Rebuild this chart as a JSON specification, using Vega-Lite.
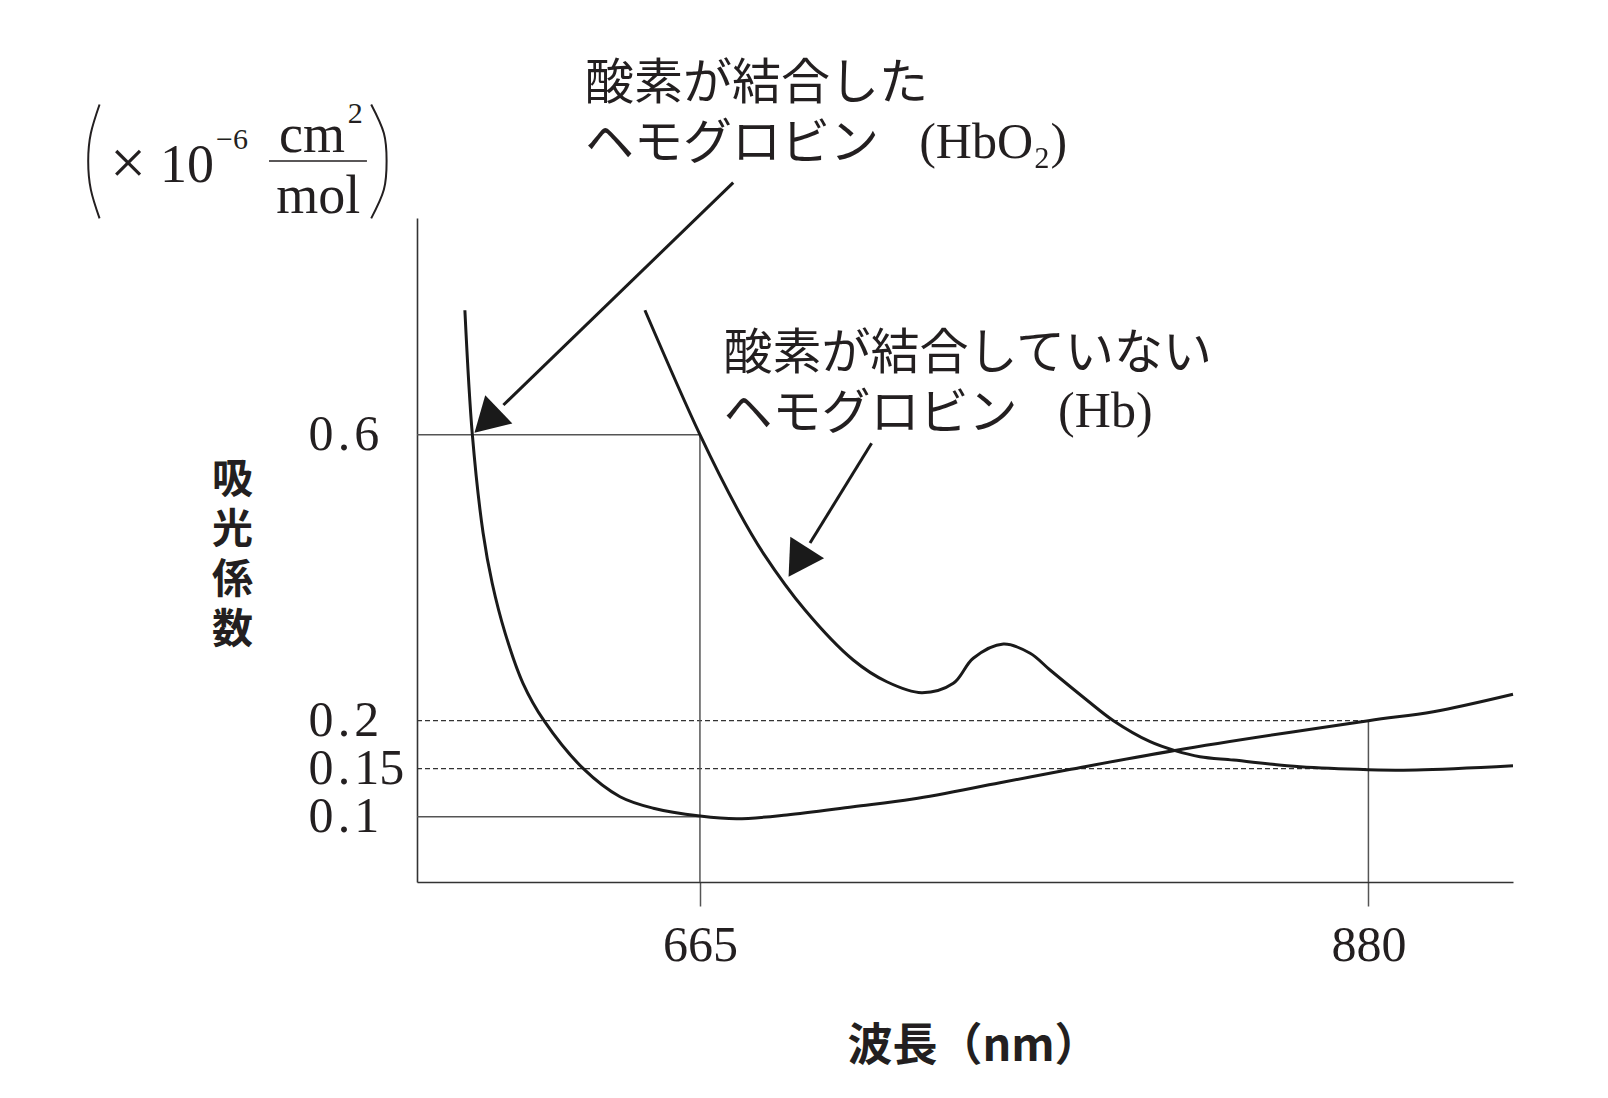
{
  "$schema": "https://vega.github.io/schema/vega-lite/v6.json",
  "width": 1096,
  "height": 664,
  "autosize": {"type": "none"},
  "padding": {"left": 417, "top": 218, "right": 95, "bottom": 216},
  "background": "white",
  "config": {"view": {"stroke": null}},
  "datasets": {
    "curves": [
      {"series": "HbO2", "x": 589.4, "y": 0.774},
      {"series": "HbO2", "x": 591.8, "y": 0.6},
      {"series": "HbO2", "x": 595.26, "y": 0.4625},
      {"series": "HbO2", "x": 598.19, "y": 0.3922},
      {"series": "HbO2", "x": 602.37, "y": 0.3222},
      {"series": "HbO2", "x": 608.09, "y": 0.2523},
      {"series": "HbO2", "x": 614.85, "y": 0.2},
      {"series": "HbO2", "x": 627.5, "y": 0.15},
      {"series": "HbO2", "x": 639.3, "y": 0.1208},
      {"series": "HbO2", "x": 650.0, "y": 0.1088},
      {"series": "HbO2", "x": 665, "y": 0.1007},
      {"series": "HbO2", "x": 676.8, "y": 0.0979},
      {"series": "HbO2", "x": 692.9, "y": 0.1018},
      {"series": "HbO2", "x": 714.3, "y": 0.1104},
      {"series": "HbO2", "x": 733.5, "y": 0.1184},
      {"series": "HbO2", "x": 761.5, "y": 0.1354},
      {"series": "HbO2", "x": 783, "y": 0.1486},
      {"series": "HbO2", "x": 817.3, "y": 0.1688},
      {"series": "HbO2", "x": 880, "y": 0.2},
      {"series": "HbO2", "x": 900.9, "y": 0.2126},
      {"series": "HbO2", "x": 926.5, "y": 0.237},
      {"series": "Hb", "x": 647.3, "y": 0.774},
      {"series": "Hb", "x": 665, "y": 0.6},
      {"series": "Hb", "x": 677.2, "y": 0.4947},
      {"series": "Hb", "x": 685.4, "y": 0.4341},
      {"series": "Hb", "x": 698.8, "y": 0.3548},
      {"series": "Hb", "x": 714.3, "y": 0.2849},
      {"series": "Hb", "x": 725.1, "y": 0.2545},
      {"series": "Hb", "x": 736.3, "y": 0.2392},
      {"series": "Hb", "x": 746.5, "y": 0.2523},
      {"series": "Hb", "x": 752.9, "y": 0.2873},
      {"series": "Hb", "x": 762.6, "y": 0.3073},
      {"series": "Hb", "x": 771.2, "y": 0.2943},
      {"series": "Hb", "x": 777.6, "y": 0.2709},
      {"series": "Hb", "x": 789.4, "y": 0.229},
      {"series": "Hb", "x": 798, "y": 0.2},
      {"series": "Hb", "x": 809.8, "y": 0.1781},
      {"series": "Hb", "x": 817.8, "y": 0.1688},
      {"series": "Hb", "x": 825.8, "y": 0.1625},
      {"series": "Hb", "x": 836.6, "y": 0.159},
      {"series": "Hb", "x": 858, "y": 0.152},
      {"series": "Hb", "x": 880, "y": 0.149},
      {"series": "Hb", "x": 895.5, "y": 0.1486},
      {"series": "Hb", "x": 926.5, "y": 0.153}
    ],
    "solidH": [
      {"y": 0.6, "x": 574, "x2": 665},
      {"y": 0.1, "x": 574, "x2": 665}
    ],
    "dashedH": [
      {"y": 0.2, "x": 574, "x2": 880},
      {"y": 0.15, "x": 574, "x2": 880}
    ],
    "solidV": [
      {"x": 665, "y": 0.6, "y2": 0.032},
      {"x": 880, "y": 0.2, "y2": 0.032}
    ],
    "arrows": [
      {"x": 675.7, "y": 0.9524, "x2": 601.8, "y2": 0.6415},
      {"x": 720.2, "y": 0.588, "x2": 700.4, "y2": 0.4485}
    ],
    "headA": [{"x": 597.7, "y": 0.6245}],
    "headB": [{"x": 697.5, "y": 0.4285}],
    "labels": [
      {"t": "酸素が結合した\nヘモグロビン", "x": 628.0, "y": 1.0905},
      {"t": "酸素が結合していない\nヘモグロビン", "x": 672.6, "y": 0.7129}
    ],
    "formulas": [
      {"t": "(HbO₂)", "x": 735.5, "y": 0.987},
      {"t": "(Hb)", "x": 780.2, "y": 0.6112}
    ],
    "unitTimes": [{"t": "×", "x": 481.1, "y": 0.9512}],
    "unitBig": [
      {"t": "10", "x": 500.0, "y": 0.9527},
      {"t": "cm", "x": 540.2, "y": 0.9954},
      {"t": "mol", "x": 542.2, "y": 0.91}
    ],
    "unitSmall": [
      {"t": "−6", "x": 514.5, "y": 0.9996},
      {"t": "2", "x": 554.1, "y": 1.036}
    ],
    "bar": [{"x": 526.4, "x2": 557.9, "y": 0.9828}],
    "parens": [
      {"p": "L", "i": 0, "x": 471.9, "y": 1.0617},
      {"p": "L", "i": 1, "x": 469.1, "y": 1.0215},
      {"p": "L", "i": 2, "x": 468.25, "y": 0.9828},
      {"p": "L", "i": 3, "x": 469.1, "y": 0.9427},
      {"p": "L", "i": 4, "x": 471.9, "y": 0.9025},
      {"p": "R", "i": 0, "x": 559.27, "y": 1.0617},
      {"p": "R", "i": 1, "x": 563.35, "y": 1.0215},
      {"p": "R", "i": 2, "x": 564.22, "y": 0.9828},
      {"p": "R", "i": 3, "x": 563.35, "y": 0.9427},
      {"p": "R", "i": 4, "x": 559.27, "y": 0.9025}
    ]
  },
  "encoding": {
    "x": {"field": "x", "type": "quantitative",
      "scale": {"domain": [574, 926.5], "range": [0, 1096], "zero": false, "nice": false},
      "axis": {
        "values": [665, 880], "format": "d", "title": "波長（nm）",
        "domain": true, "domainColor": "#333333", "domainWidth": 1.6,
        "ticks": true, "tickSize": 24, "tickColor": "#555555", "tickWidth": 1.5,
        "labelFont": "Liberation Serif", "labelFontSize": 50, "labelColor": "#231f20",
        "labelPadding": 14, "labelOverlap": false, "labelFlush": false, "grid": false,
        "titleFont": "Noto Sans CJK JP", "titleFontSize": 45, "titleFontWeight": "bold",
        "titleColor": "#231f20", "titleX": 556, "titleY": 164, "titleAlign": "center",
        "titleBaseline": "middle", "titleAngle": 0
      }},
    "y": {"field": "y", "type": "quantitative",
      "scale": {"domain": [0.032, 0.1, 0.2, 0.6, 0.903], "range": [664, 598.7, 502.7, 216.7, 0], "zero": false, "nice": false},
      "axis": {
        "values": [0.1, 0.15, 0.2, 0.6],
        "labelExpr": "replace(format(datum.value, '.2~f'), '.', '\u200a.\u200a')",
        "ticks": false, "tickSize": 0,
        "domain": true, "domainColor": "#333333", "domainWidth": 1.6,
        "labelFont": "Liberation Serif", "labelFontSize": 50, "labelColor": "#231f20",
        "labelAlign": "left", "labelBaseline": "middle", "labelPadding": 109,
        "labelOverlap": false, "labelFlush": false, "grid": false,
        "title": ["吸", "光", "係", "数"], "titleAngle": 0,
        "titleX": -185, "titleY": 262, "titleAlign": "center", "titleBaseline": "middle",
        "titleFont": "Noto Sans CJK JP", "titleFontSize": 41, "titleFontWeight": "bold",
        "titleColor": "#231f20", "titleLineHeight": 50
      }}
  },
  "layer": [
    {
      "data": {"name": "solidH"},
      "mark": {"type": "rule", "color": "#555555", "strokeWidth": 1.5},
      "encoding": {"x2": {"field": "x2"}}
    },
    {
      "data": {"name": "dashedH"},
      "mark": {"type": "rule", "color": "#333333", "strokeWidth": 1.3, "strokeDash": [5, 3]},
      "encoding": {"x2": {"field": "x2"}}
    },
    {
      "data": {"name": "solidV"},
      "mark": {"type": "rule", "color": "#555555", "strokeWidth": 1.5},
      "encoding": {"y2": {"field": "y2"}}
    },
    {
      "data": {"name": "curves"},
      "mark": {"type": "line", "interpolate": "catmull-rom", "color": "#1a1a1a", "strokeWidth": 3},
      "encoding": {"detail": {"field": "series"}}
    },
    {
      "data": {"name": "arrows"},
      "mark": {"type": "rule", "color": "#1a1a1a", "strokeWidth": 3},
      "encoding": {"x2": {"field": "x2"}, "y2": {"field": "y2"}}
    },
    {
      "data": {"name": "headA"},
      "mark": {"type": "point", "shape": "triangle", "size": 1521, "angle": 226, "filled": true, "opacity": 1, "color": "#1a1a1a", "strokeWidth": 0},
      "encoding": {}
    },
    {
      "data": {"name": "headB"},
      "mark": {"type": "point", "shape": "triangle", "size": 1600, "angle": 212.5, "filled": true, "opacity": 1, "color": "#1a1a1a", "strokeWidth": 0},
      "encoding": {}
    },
    {
      "data": {"name": "labels"},
      "mark": {"type": "text", "align": "left", "baseline": "middle", "lineBreak": "\n", "lineHeight": 60, "font": "Noto Sans CJK JP", "fontSize": 49, "color": "#231f20"},
      "encoding": {"text": {"field": "t"}}
    },
    {
      "data": {"name": "formulas"},
      "mark": {"type": "text", "align": "left", "baseline": "alphabetic", "font": "Liberation Serif", "fontSize": 50, "color": "#231f20"},
      "encoding": {"text": {"field": "t"}}
    },
    {
      "data": {"name": "unitTimes"},
      "mark": {"type": "text", "align": "center", "baseline": "alphabetic", "font": "Liberation Serif", "fontSize": 64, "color": "#231f20"},
      "encoding": {"text": {"field": "t"}}
    },
    {
      "data": {"name": "unitBig"},
      "mark": {"type": "text", "align": "center", "baseline": "alphabetic", "font": "Liberation Serif", "fontSize": 54, "color": "#231f20"},
      "encoding": {"text": {"field": "t"}}
    },
    {
      "data": {"name": "unitSmall"},
      "mark": {"type": "text", "align": "center", "baseline": "alphabetic", "font": "Liberation Serif", "fontSize": 30, "color": "#231f20"},
      "encoding": {"text": {"field": "t"}}
    },
    {
      "data": {"name": "bar"},
      "mark": {"type": "rule", "color": "#231f20", "strokeWidth": 1.5},
      "encoding": {"x2": {"field": "x2"}}
    },
    {
      "data": {"name": "parens"},
      "mark": {"type": "line", "interpolate": "natural", "color": "#231f20", "strokeWidth": 2},
      "encoding": {
        "detail": {"field": "p"},
        "order": {"field": "i", "type": "quantitative"}
      }
    }
  ]
}
